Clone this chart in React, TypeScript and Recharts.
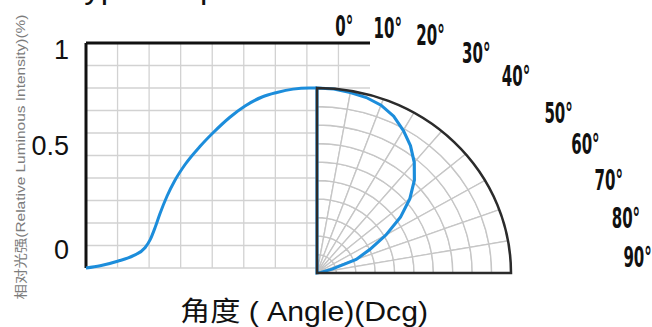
import React from 'react'
import {
  ComposedChart,
  Line,
  XAxis,
  YAxis,
  CartesianGrid,
  ReferenceLine,
  PieChart,
  Pie,
  RadarChart,
  Radar,
  PolarAngleAxis,
  PolarRadiusAxis,
} from 'recharts'

// left panel: relative intensity traced over the square grid (grid columns across, 0..1 up)
const curvePos = [0, 0.45, 1, 1.5, 1.87, 2.03, 2.19, 2.34, 2.57, 2.82, 3.14, 3.61, 4.02, 4.56, 5.04, 5.58, 6.05, 6.56, 7.07, 7.32]
const curveLevel = [0, 0.01, 0.03, 0.055, 0.09, 0.125, 0.18, 0.24, 0.32, 0.39, 0.46, 0.54, 0.6, 0.67, 0.72, 0.76, 0.78, 0.795, 0.8, 0.8]
const gridCols = [1, 2, 3, 4, 5, 6, 7, 8]
const gridRows = [0, 0.1, 0.2, 0.3, 0.4, 0.5, 0.6, 0.7, 0.8, 0.9, 1]
const levelLabels = [0, 0.5, 1]

// right panel: polar pattern, angle off axis (deg) vs relative intensity
const polarAngles = [0, 5, 10, 15, 20, 25, 30, 35, 40, 45, 50, 55, 60, 65, 70, 75, 80, 85, 90]
const polarLevel = [1, 0.998, 0.99, 0.982, 0.965, 0.935, 0.89, 0.84, 0.78, 0.71, 0.625, 0.525, 0.41, 0.3, 0.215, 0.08, 0.02, 0, 0]
const angleTicks = [0, 10, 20, 30, 40, 50, 60, 70, 80, 90]
const ringSteps = [0.1, 0.2, 0.3, 0.4, 0.5, 0.6, 0.7, 0.8, 0.9, 1]

const W = 652
const H = 327
const CX = 317
const CY = 273
const R = 185
const BLUE = '#1c8ddb'

const leftData = curvePos.map((x, i) => ({ x, y: curveLevel[i] }))
// trailing null keeps the radar outline from closing back up the vertical edge
const polarData = [
  ...polarAngles.map((angle, i) => ({ angle, level: polarLevel[i] as number | null })),
  { angle: 90, level: null },
]
const sectors = angleTicks.slice(1).map((a, i) => ({ name: `${angleTicks[i]}-${a}`, span: a - angleTicks[i] }))
const quarter = [{ name: 'quarter', span: 90 }]

const layer: React.CSSProperties = { position: 'absolute', left: 0, top: 0 }
const polarStretch: React.CSSProperties = {
  ...layer,
  width: W,
  height: H,
  transform: 'scaleX(1.0486)',
  transformOrigin: `${CX}px ${CY}px`,
}

const labelNudge: Record<string, number> = { '1': 7, '0.5': -10, '0': -18 }
// how far (deg) each angle label leans clockwise of its spoke, as set in the original
const labelLean = [6, 5.4, 4.5, 4.6, 3.9, 5.3, 3.2, 1.6, -0.6, -3]

function LevelTick({ x, y, payload }: any) {
  if (!levelLabels.includes(payload.value)) return null
  return (
    <text
      x={x - 2}
      y={y + labelNudge[String(payload.value)]}
      textAnchor="end"
      dominantBaseline="central"
      fontSize={27}
      fontFamily="Liberation Sans, Arial, sans-serif"
      fill="#111"
    >
      {payload.value}
    </text>
  )
}

function DegreeTick({ payload, index }: any) {
  const v = payload.value
  const a = ((90 - v - (labelLean[index] ?? 0)) * Math.PI) / 180
  const r = R * (1.34 + v * 0.0035)
  const x = CX + r * Math.cos(a)
  const y = CY - r * Math.sin(a)
  return (
    <g transform={`translate(${x},${y}) scale(0.55,1)`}>
      <text
        textAnchor="middle"
        dominantBaseline="central"
        fontSize={29}
        fontWeight="bold"
        fontFamily="Liberation Sans Narrow, DejaVu Sans Condensed, sans-serif"
        fill="#111"
      >
        {v}°
      </text>
    </g>
  )
}

export default function App() {
  return (
    <div style={{ position: 'fixed', left: 0, top: 0, width: W, height: H, background: '#fff', overflow: 'hidden' }}>
      <div style={layer}>
        <ComposedChart width={W} height={H} data={leftData} margin={{ top: 43, right: 282, bottom: 59, left: 0 }}>
          <CartesianGrid stroke="#d2d2d2" strokeWidth={1.3} vertical={false} />
          <XAxis
            type="number"
            dataKey="x"
            domain={[0, 9]}
            height={0}
            axisLine={false}
            tickLine={false}
            tick={false}
          />
          <YAxis
            type="number"
            domain={[0, 1]}
            ticks={gridRows}
            interval={0}
            width={86}
            axisLine={false}
            tickLine={false}
            tickMargin={9}
            tick={<LevelTick />}
          />
          {gridCols.map((c) => (
            <ReferenceLine key={c} x={c} stroke="#d2d2d2" strokeWidth={1.3} />
          ))}
          <ReferenceLine y={1} stroke="#111" strokeWidth={3} />
          <ReferenceLine x={0} stroke="#111" strokeWidth={3} />
          <Line
            type="monotone"
            dataKey="y"
            stroke={BLUE}
            strokeWidth={3}
            dot={false}
            isAnimationActive={false}
          />
          <text x={66} y={-2} fontSize={33} fontFamily="Liberation Sans, Arial, sans-serif" fill="#111">
            Typical Spatial Distribution
          </text>
          <text
            transform="translate(25,157) rotate(-90)"
            textAnchor="middle"
            fontSize={13}
            fontFamily="Liberation Sans, Noto Sans CJK SC, sans-serif"
            fill="#7c7c7c"
            textLength={285}
            lengthAdjust="spacingAndGlyphs"
          >
            相对光强(Relative Luminous Intensity)(%)
          </text>
          <text
            x={304}
            y={321}
            textAnchor="middle"
            fontSize={27}
            fontFamily="Liberation Sans, Noto Sans CJK SC, sans-serif"
            fill="#111"
            textLength={248}
            lengthAdjust="spacingAndGlyphs"
          >
            角度 ( Angle)(Dcg)
          </text>
        </ComposedChart>
      </div>

      <div style={polarStretch}>
        <PieChart width={W} height={H} margin={{ top: 0, right: 0, bottom: 0, left: 0 }}>
          {ringSteps.map((step, k) => (
            <Pie
              key={step}
              data={sectors}
              dataKey="span"
              cx={CX}
              cy={CY}
              startAngle={90}
              endAngle={0}
              innerRadius={k === 0 ? 0 : ringSteps[k - 1] * R}
              outerRadius={step * R}
              fill="#fff"
              stroke="#c6c6c6"
              strokeWidth={1.3}
              isAnimationActive={false}
            />
          ))}
        </PieChart>
      </div>

      <div style={polarStretch}>
        <RadarChart
          width={W}
          height={H}
          data={polarData}
          cx={CX}
          cy={CY}
          outerRadius={R}
          startAngle={90}
          endAngle={0}
          margin={{ top: 0, right: 0, bottom: 0, left: 0 }}
        >
          <PolarAngleAxis
            dataKey="angle"
            type="number"
            domain={[0, 90]}
            ticks={angleTicks}
            axisLine={false}
            tickLine={false}
            tick={<DegreeTick />}
          />
          <PolarRadiusAxis domain={[0, 1]} axisLine={false} tick={false} />
          <Radar
            dataKey="level"
            stroke={BLUE}
            strokeWidth={3}
            fill="none"
            dot={false}
            isAnimationActive={false}
          />
        </RadarChart>
      </div>

      <div style={polarStretch}>
        <PieChart width={W} height={H} margin={{ top: 0, right: 0, bottom: 0, left: 0 }}>
          <Pie
            data={quarter}
            dataKey="span"
            cx={CX}
            cy={CY}
            startAngle={90}
            endAngle={0}
            innerRadius={0}
            outerRadius={R}
            fill="none"
            stroke="#2b2b2b"
            strokeWidth={2.4}
            isAnimationActive={false}
          />
        </PieChart>
      </div>
    </div>
  )
}
